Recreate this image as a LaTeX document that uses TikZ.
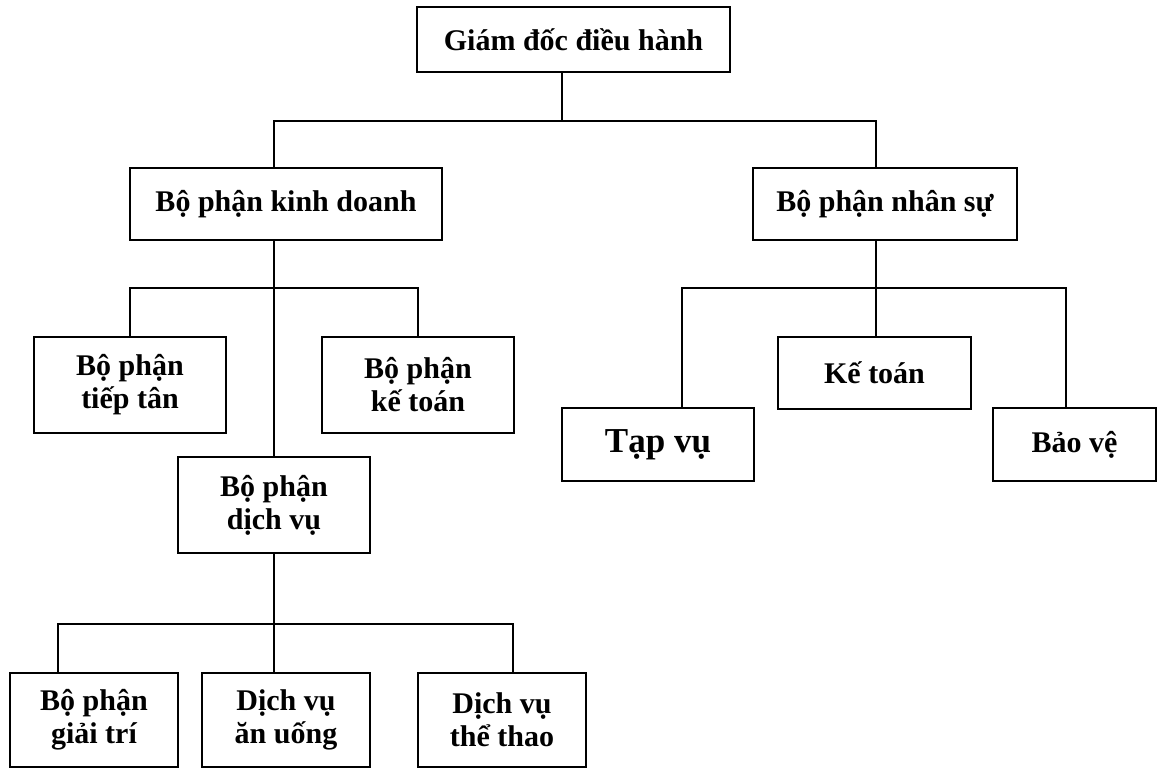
\documentclass[tikz,border=0pt]{standalone}
\usepackage{fontspec}
\setmainfont{Liberation Serif}
\begin{document}
\begin{tikzpicture}[x=1pt,y=-1pt,
  box/.style={draw,line width=2pt,inner sep=0pt,align=center,
    font=\fontsize{30}{33}\selectfont\bfseries},
  conn/.style={line width=2pt}]
\useasboundingbox (0,0) rectangle (1157,768);
% boxes
\node[box,minimum width=313pt,minimum height=65pt] (gd) at (573.5,39.5) {Giám đốc điều hành};
\node[box,minimum width=312pt,minimum height=72pt] (kd) at (286,204) {Bộ phận kinh doanh};
\node[box,minimum width=264pt,minimum height=72pt] (ns) at (885,204) {Bộ phận nhân sự};
\node[box,minimum width=192pt,minimum height=96pt] (tt) at (130,385) {Bộ phận\\tiếp tân};
\node[box,minimum width=192pt,minimum height=96pt] (kt) at (418,385) {Bộ phận\\kế toán};
\node[box,minimum width=192pt,minimum height=96pt] (dv) at (274,505) {Bộ phận\\dịch vụ};
\node[box,minimum width=192pt,minimum height=73pt,font=\fontsize{35}{38}\selectfont\bfseries] (tv) at (658,444.5) {Tạp vụ};
\node[box,minimum width=193pt,minimum height=72pt] (ktn) at (874.5,373) {Kế toán};
\node[box,minimum width=163pt,minimum height=73pt] (bv) at (1074.5,444.5) {Bảo vệ};
\node[box,minimum width=168pt,minimum height=94pt] (gt) at (94,720) {Bộ phận\\giải trí};
\node[box,minimum width=168pt,minimum height=94pt] (au) at (286,720) {Dịch vụ\\ăn uống};
\node[box,minimum width=168pt,minimum height=94pt] (th) at (502,720) {Dịch vụ\\thể thao};
% junctions
\coordinate (j0) at (562,121);
\coordinate (j0l) at (274,121);
\coordinate (j0r) at (876,121);
\coordinate (j1) at (274,288);
\coordinate (j1l) at (130,288);
\coordinate (j1r) at (418,288);
\coordinate (j2) at (876,288);
\coordinate (j2l) at (682,288);
\coordinate (j2r) at (1066,288);
\coordinate (j3) at (274,624);
\coordinate (j3l) at (58,624);
\coordinate (j3r) at (513,624);
% connectors
\draw[conn] (gd.south -| j0) -- (j0);
\draw[conn] (kd.north -| j0l) -- (j0l) -- (j0r) -- (ns.north -| j0r);
\draw[conn] (kd.south -| j1) -- (dv.north -| j1);
\draw[conn] (tt.north -| j1l) -- (j1l) -- (j1r) -- (kt.north -| j1r);
\draw[conn] (ns.south -| j2) -- (ktn.north -| j2);
\draw[conn] (tv.north -| j2l) -- (j2l) -- (j2r) -- (bv.north -| j2r);
\draw[conn] (dv.south -| j3) -- (au.north -| j3);
\draw[conn] (gt.north -| j3l) -- (j3l) -- (j3r) -- (th.north -| j3r);
\end{tikzpicture}
\end{document}
